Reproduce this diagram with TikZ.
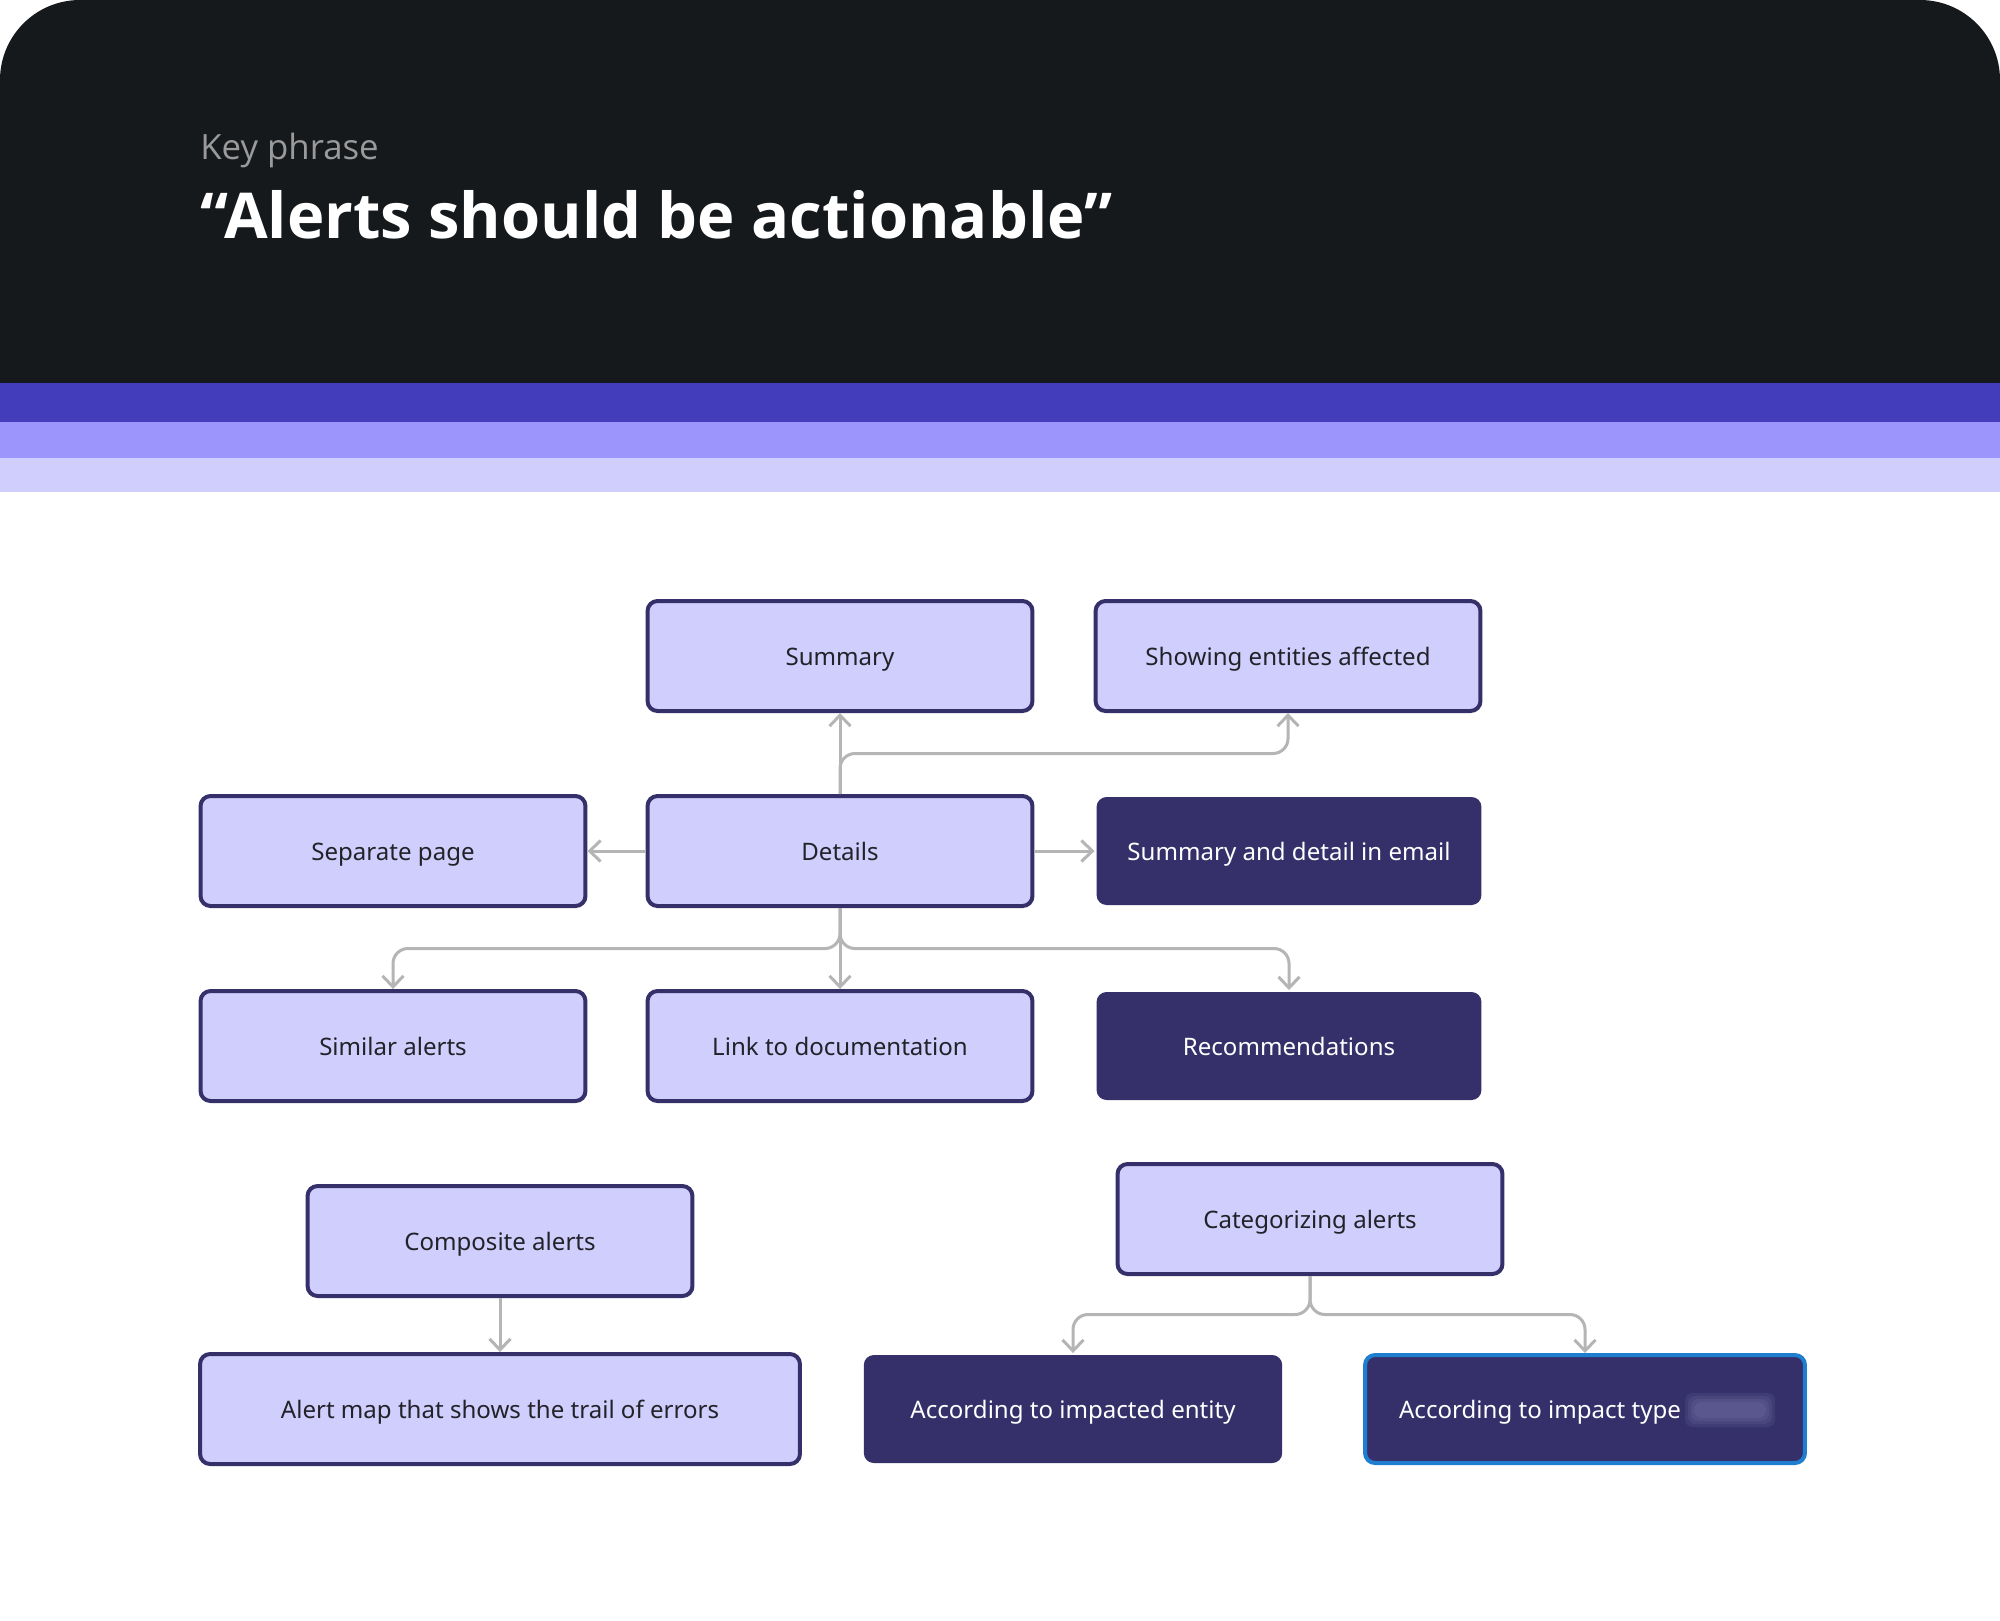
\documentclass[tikz,border=0pt]{standalone}
\usepackage{fontspec}
\setmainfont{Noto Sans}
\newfontfamily\headfont{Open Sans}
\usepackage{tikz}
\usetikzlibrary{arrows.meta,calc}
\definecolor{headbg}{HTML}{16191C}
\definecolor{bandA}{HTML}{443DBB}
\definecolor{bandB}{HTML}{9B95FC}
\definecolor{lilac}{HTML}{D0CEFD}
\definecolor{navy}{HTML}{35306A}
\definecolor{ink}{HTML}{222228}
\definecolor{wire}{HTML}{B5B5B5}
\definecolor{keygrey}{HTML}{9A9A9A}
\definecolor{focusblue}{HTML}{1E7FD0}
\newcommand{\lbl}{\fontsize{13.7}{16}\selectfont}

\tikzset{
  box/.style={draw=navy, line width=0.08cm, fill=lilac, rounded corners=0.2cm,
    minimum width=7.7cm, minimum height=2.2cm, text=ink, font=\lbl,
    text height=1.05em, text depth=0pt},
  darkbox/.style={box, draw=none, fill=navy, text=white, minimum height=2.16cm},
  conn/.style={draw=wire, line width=0.06cm,
    -{Straight Barb[length=0.22cm,width=0.42cm,line width=0.06cm]}},
}

\begin{document}
\begin{tikzpicture}[x=0.02cm,y=-0.02cm]
    \useasboundingbox (0,0) rectangle (2000,1620);
    \fill[white] (0,0) rectangle (2000,1620);

    % header
    \fill[headbg] (0,383) [rounded corners=1.6cm] -- (0,0) -- (2000,0) [sharp corners] -- (2000,383) -- cycle;
    \fill[bandA] (0,383) rectangle (2000,422);
    \fill[bandB] (0,422) rectangle (2000,458);
    \fill[lilac] (0,458) rectangle (2000,492);
    \node[anchor=base west, inner sep=0, text=keygrey, font=\headfont\fontsize{19.8}{22}\selectfont] (kicker) at (200,159) {Key phrase};
    \node[anchor=base west, inner sep=0, text=white, font=\headfont\bfseries\fontsize{36}{40}\selectfont] (title) at (200,238) {“Alerts should be actionable”};

    % boxes
    \node[box] (summary) at (840,656) {Summary};
    \node[box] (showing) at (1288,656) {Showing entities affected};
    \node[box] (seppage) at (393,851) {Separate page};
    \node[box] (details) at (840,851) {Details};
    \node[darkbox] (email) at (1289,851) {Summary and detail in email};
    \node[box] (similar) at (393,1046) {Similar alerts};
    \node[box] (linkdoc) at (840,1046) {Link to documentation};
    \node[darkbox] (recomm) at (1289,1046) {Recommendations};

    \node[box] (composite) at (500,1241) {Composite alerts};
    \node[box, minimum width=12cm] (alertmap) at (500,1409) {Alert map that shows the trail of errors};
    \node[box] (categ) at (1310,1219) {Categorizing alerts};
    \node[darkbox, minimum width=8.37cm] (entity) at (1073,1409) {According to impacted entity};
    \node[darkbox, draw=focusblue, line width=0.08cm, minimum width=8.8cm] (impact) at (1585,1409) {According to impact type\rule{1.8cm}{0pt}};

    % blurred word
    \foreach \s in {0,3,6,9}
      \fill[lilac, opacity=0.07, rounded corners=0.15cm] (1694-\s,1402-\s) rectangle (1766+\s,1418+\s);

    % connectors
    \path[conn]
    (details) edge (summary)
    (details) edge (seppage)
    (details) edge (email)
    (details) edge (linkdoc)
    (composite) edge (alertmap);

    \coordinate (jup) at ($(details.north)!0.5!(summary.south)$);
    \coordinate (jdown) at ($(details.south)!0.5!(linkdoc.north)$);
    \coordinate (jcat) at ($(categ.south)!0.5!(categ.south |- entity.north)$);
    \draw[conn, rounded corners=0.3cm] (details.north) -- (jup) -| (showing.south);
    \draw[conn, rounded corners=0.3cm] (details.south) -- (jdown) -| (similar.north);
    \draw[conn, rounded corners=0.3cm] (details.south) -- (jdown) -| (recomm.north);
    \draw[conn, rounded corners=0.3cm] (categ.south) -- (jcat) -| (entity.north);
    \draw[conn, rounded corners=0.3cm] (categ.south) -- (jcat) -| (impact.north);

  \end{tikzpicture}
\end{document}
